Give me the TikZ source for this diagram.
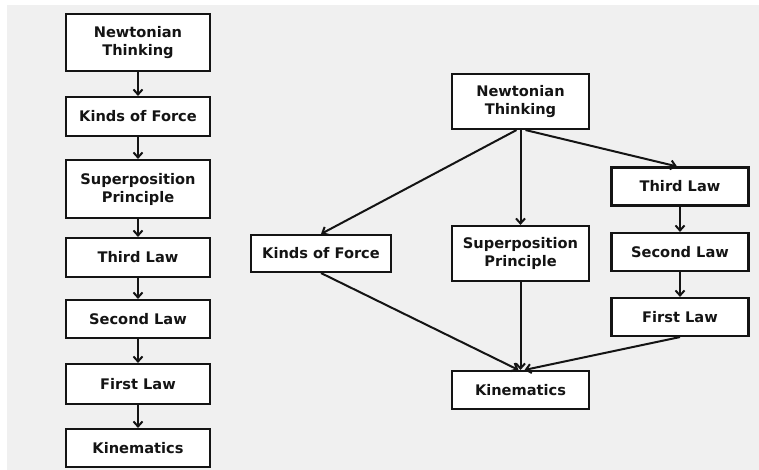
\documentclass[tikz,border=0pt]{standalone}
\usepackage{fontspec}
\setmainfont{DejaVu Sans}
\usetikzlibrary{arrows.meta}
\definecolor{bgcol}{HTML}{F0F0F0}
\definecolor{ink}{HTML}{141414}
\tikzset{
  box/.style={draw=ink, fill=white, line width=2.1pt, text=ink, align=center,
    font=\bfseries\fontsize{14.6}{18}\selectfont, inner sep=0pt},
  lbox/.style={box, minimum width=144pt},
  rbox/.style={box, minimum width=137pt},
  conn/.style={draw=ink, line width=2pt, -{Straight Barb[length=5pt,width=9pt]}}
}
\begin{document}
\begin{tikzpicture}[x=1pt,y=-1pt]
\useasboundingbox (0,0) rectangle (759,470);
\fill[white] (0,0) rectangle (759,470);
\fill[bgcol] (7,5) rectangle (759,470);
% left column
\node[lbox, minimum height=57pt] (lnt) at (138,42.5) {Newtonian\\Thinking};
\node[lbox, minimum height=39pt] (lkf) at (138,116.5) {Kinds of Force};
\node[lbox, minimum height=58pt] (lsp) at (138,189) {Superposition\\Principle};
\node[lbox, minimum height=39pt] (ltl) at (138,257.5) {Third Law};
\node[lbox, minimum height=38pt] (lsl) at (138,319) {Second Law};
\node[lbox, minimum height=40pt] (lfl) at (138,384) {First Law};
\node[lbox, minimum height=38pt] (lk) at (138,448) {Kinematics};
\draw[conn] (lnt) -- (lkf);
\draw[conn] (lkf) -- (lsp);
\draw[conn] (lsp) -- (ltl);
\draw[conn] (ltl) -- (lsl);
\draw[conn] (lsl) -- (lfl);
\draw[conn] (lfl) -- (lk);
% right graph
\node[rbox, minimum height=55pt] (rnt) at (520.5,101.5) {Newtonian\\Thinking};
\node[rbox, minimum height=38pt] (rtl) at (680,186.5) {Third Law};
\node[rbox, minimum height=38pt] (rsl) at (680,252) {Second Law};
\node[rbox, minimum height=38pt] (rfl) at (680,317) {First Law};
\node[box, minimum width=140pt, minimum height=37pt] (rkf) at (321,253.5) {Kinds of Force};
\node[rbox, minimum height=55pt] (rsp) at (520.5,253.5) {Superposition\\Principle};
\node[rbox, minimum height=38pt] (rk) at (520.5,390) {Kinematics};
\draw[conn] ([xshift=-4pt]rnt.south) -- (rkf.north);
\draw[conn] (rnt.south) -- (rsp.north);
\draw[conn] ([xshift=5pt]rnt.south) -- ([xshift=-3pt]rtl.north);
\draw[conn] (rtl) -- (rsl);
\draw[conn] (rsl) -- (rfl);
\draw[conn] (rkf.south) -- ([xshift=-2pt]rk.north);
\draw[conn] (rsp.south) -- (rk.north);
\draw[conn] (rfl.south) -- ([xshift=4pt]rk.north);
\end{tikzpicture}
\end{document}
